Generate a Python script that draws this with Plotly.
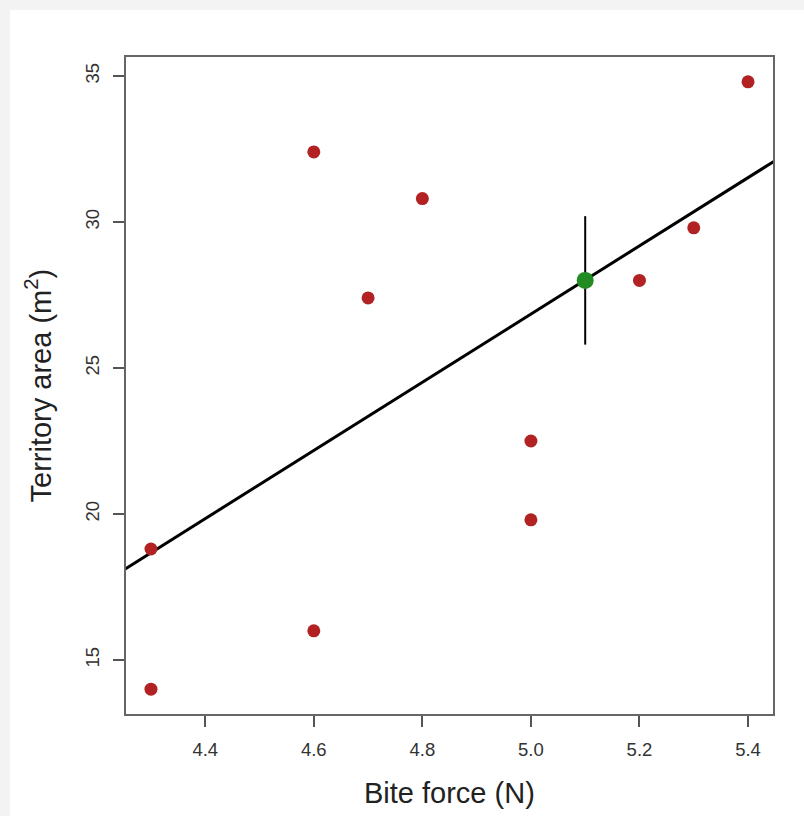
import numpy as np
import plotly.graph_objects as go

# Data
bite_force = [4.3, 4.3, 4.6, 4.6, 4.7, 4.8, 5.0, 5.0, 5.2, 5.3, 5.4]
territory = [18.8, 14.0, 32.4, 16.0, 27.4, 30.8, 22.5, 19.8, 28.0, 29.8, 34.8]

pred_x = [5.1]
pred_y = [28.0]
pred_lo = [25.8]
pred_hi = [30.2]

x_ticks = [4.4, 4.6, 4.8, 5.0, 5.2, 5.4]
y_ticks = [15, 20, 25, 30, 35]

x_title = "Bite force (N)"
y_title = "Territory area (m<sup>2</sup>)"

slope, intercept = np.polyfit(bite_force, territory, 1)
line_x = np.array([4.2, 5.5])
line_y = intercept + slope * line_x

fig = go.Figure()

fig.add_trace(go.Scatter(
    x=line_x, y=line_y, mode="lines",
    line=dict(color="black", width=3), hoverinfo="skip", showlegend=False))

fig.add_trace(go.Scatter(
    x=bite_force, y=territory, mode="markers",
    marker=dict(color="#B22222", size=13, line=dict(width=0)),
    showlegend=False))

fig.add_trace(go.Scatter(
    x=pred_x, y=pred_y, mode="markers",
    marker=dict(color="#228B22", size=17, line=dict(width=0)),
    error_y=dict(type="data", symmetric=False,
                 array=[h - y for h, y in zip(pred_hi, pred_y)],
                 arrayminus=[y - l for l, y in zip(pred_lo, pred_y)],
                 color="black", thickness=2, width=0),
    showlegend=False))

font_family = "Liberation Sans, Arial, sans-serif"

fig.update_layout(
    width=804, height=816,
    margin=dict(l=126, r=31, t=57, b=102),
    paper_bgcolor="white", plot_bgcolor="white",
    font=dict(family=font_family, color="#222"),
    xaxis=dict(
        range=[4.254, 5.446], tickvals=x_ticks,
        ticktext=[f"{v:.1f}" for v in x_ticks],
        showgrid=False, zeroline=False,
        showline=True, linecolor="#666", linewidth=1.5, mirror=True,
        ticks="outside", ticklen=11, tickcolor="#555", tickwidth=1.5,
        ticklabelstandoff=7,
        tickfont=dict(size=18.5, color="#333"),
    ),
    yaxis=dict(
        range=[13.15, 35.65], tickvals=y_ticks,
        showgrid=False, zeroline=False,
        showline=True, linecolor="#666", linewidth=1.5, mirror=True,
        ticks="outside", ticklen=11, tickcolor="#555", tickwidth=1.5,
        tickangle=-90, ticklabelstandoff=7,
        tickfont=dict(size=18.5, color="#333"),
    ),
    annotations=[
        dict(text=x_title, xref="paper", yref="paper", x=0.5, y=0,
             xanchor="center", yanchor="middle", yshift=-79, showarrow=False,
             font=dict(size=29, color="#222")),
        dict(text=y_title, xref="paper", yref="paper", x=0, y=0.5,
             xanchor="center", yanchor="middle", xshift=-88, textangle=-90,
             showarrow=False, font=dict(size=29, color="#222")),
    ],
    shapes=[
        dict(type="rect", xref="paper", yref="paper", x0=-0.3, x1=1.2, y0=1.0 + 47/657, y1=1.2,
             fillcolor="#f3f3f3", line=dict(width=0), layer="below"),
        dict(type="rect", xref="paper", yref="paper", x0=-0.3, x1=-116/647, y0=-0.3, y1=1.2,
             fillcolor="#f3f3f3", line=dict(width=0), layer="below"),
    ],
)

fig.write_html("out.html")
